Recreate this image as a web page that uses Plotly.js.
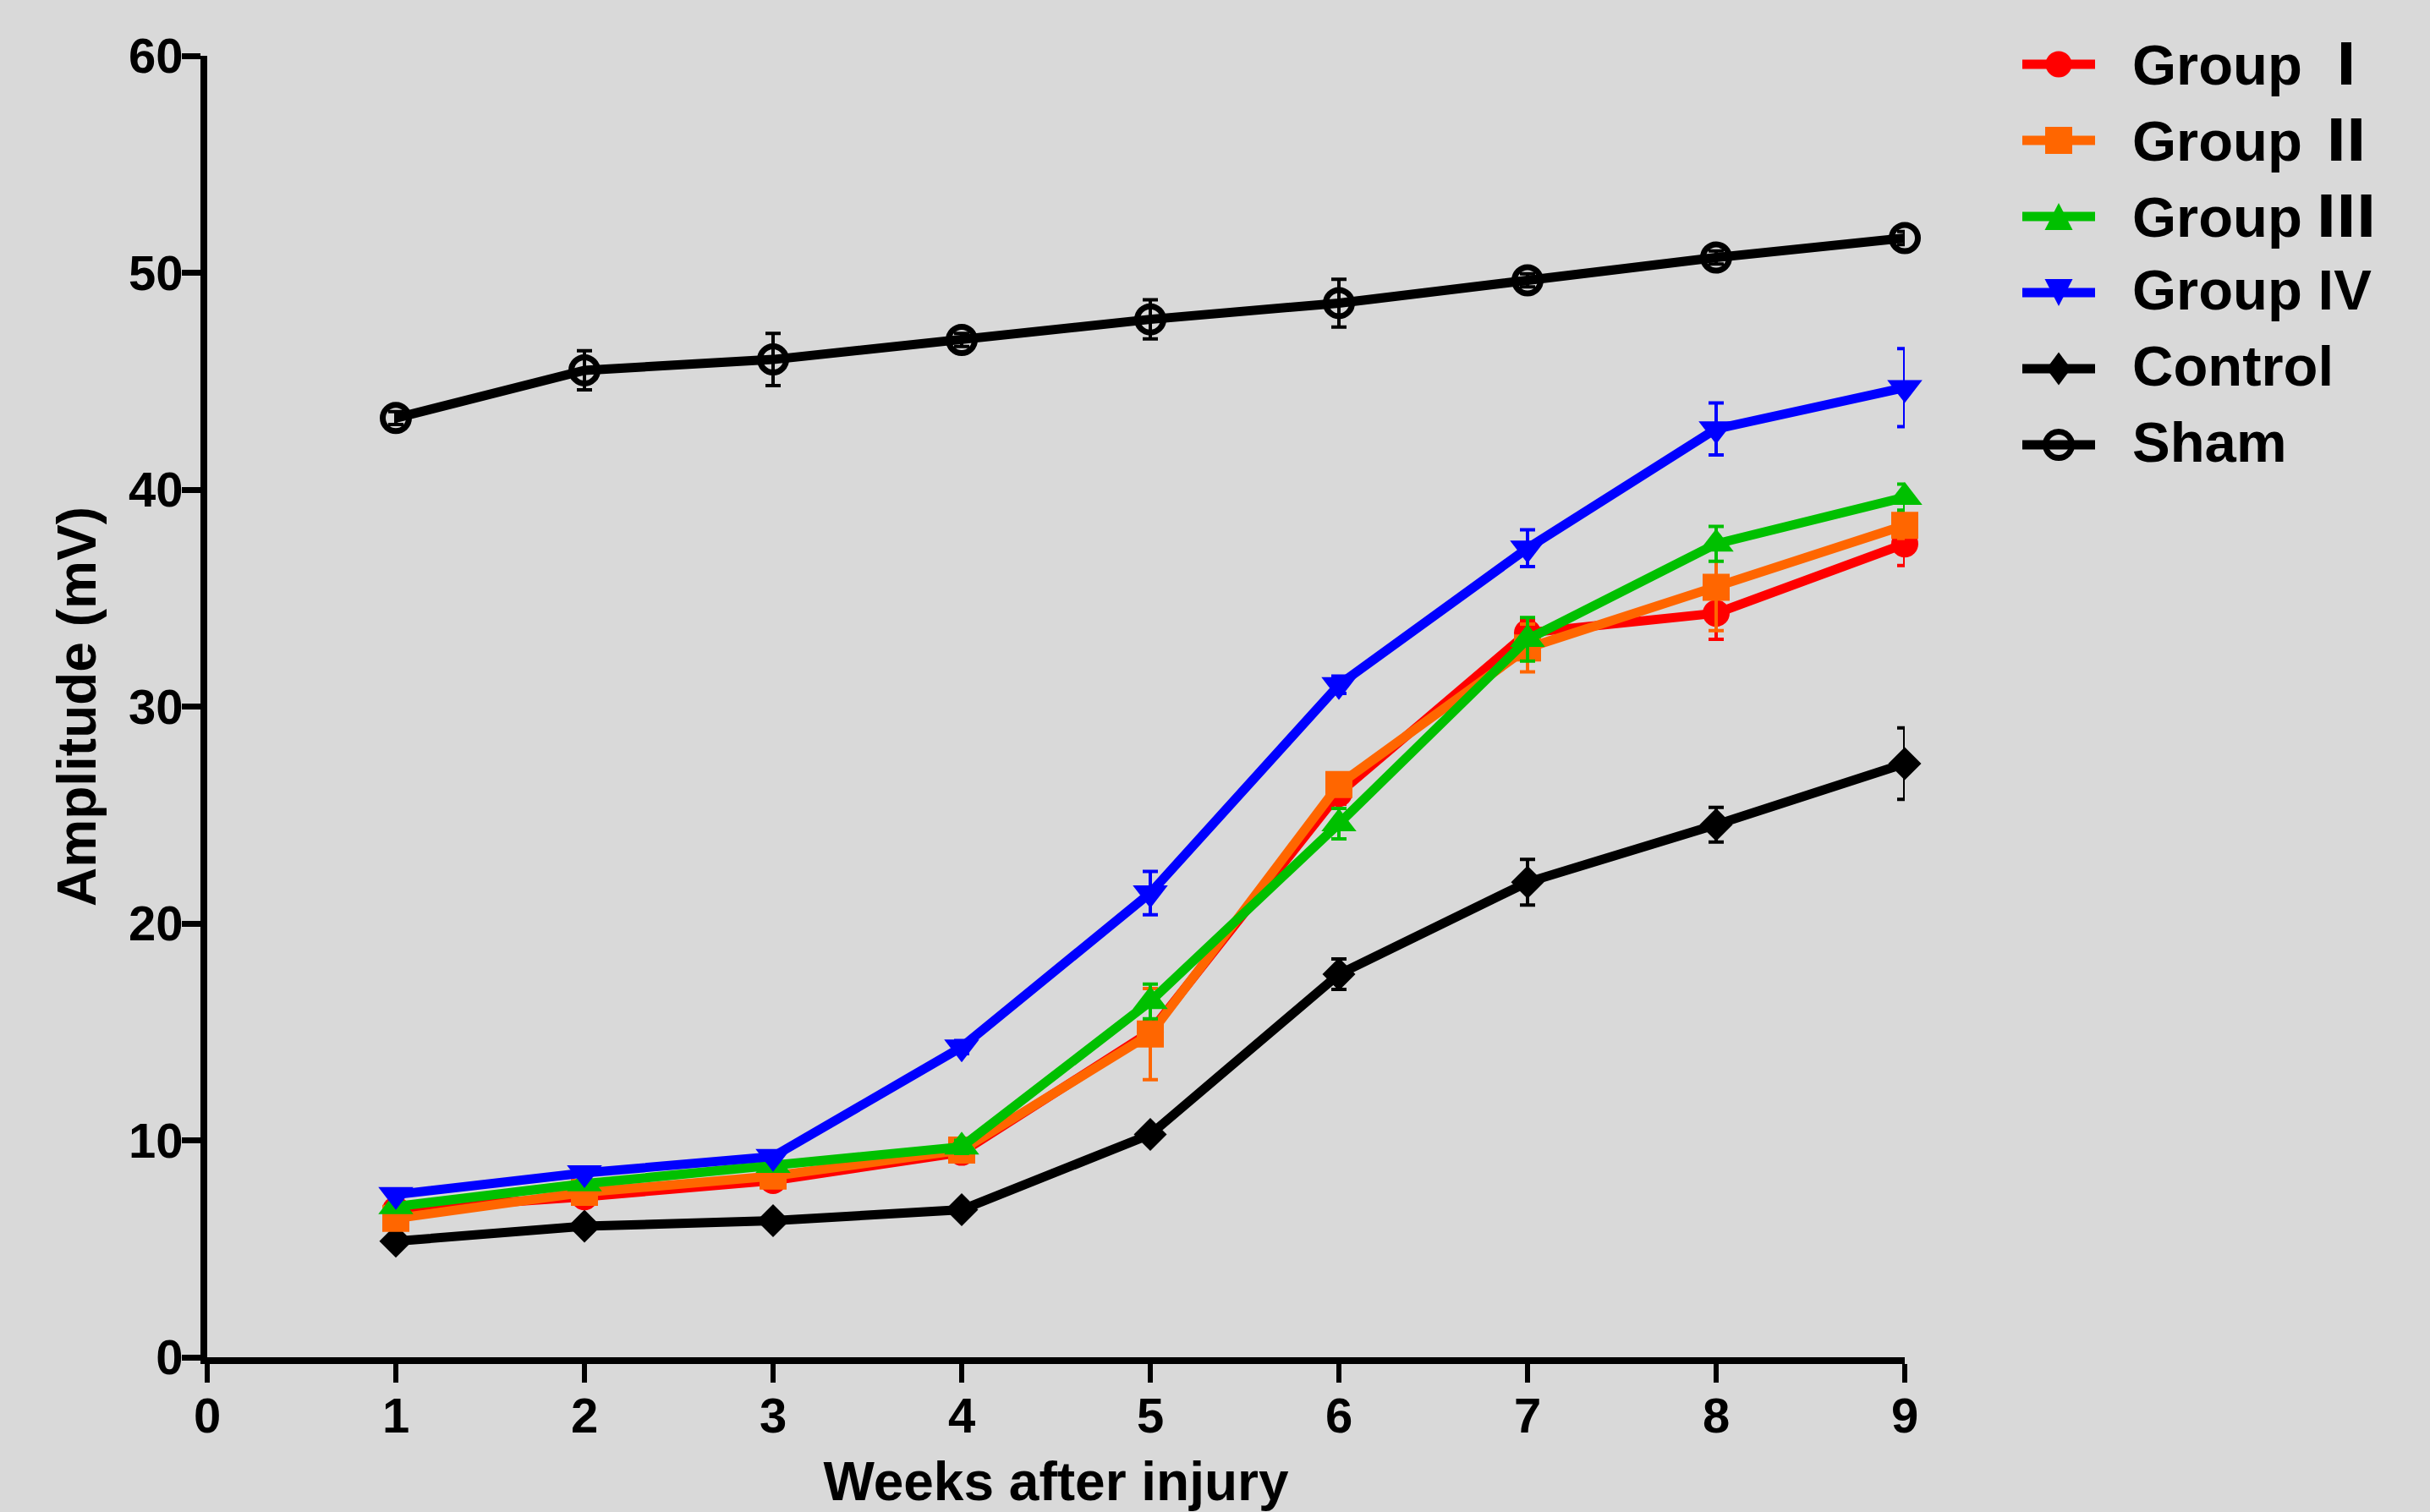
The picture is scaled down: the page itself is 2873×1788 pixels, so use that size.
<!DOCTYPE html>
<html>
<head>
<meta charset="utf-8">
<script src="https://cdn.plot.ly/plotly-3.0.1.min.js"></script>
<style>
  html, body { margin: 0; padding: 0; background: #d9d9d9; }
  #chart { width: 2873px; height: 1788px; }
</style>
</head>
<body>
<div id="chart"></div>
<script>
// ---- data ----
const weeks = [1, 2, 3, 4, 5, 6, 7, 8, 9];

const groupI      = [6.8, 7.4, 8.15, 9.45, 15.0, 26.0, 33.4, 34.3, 37.5];
const groupIErr   = [0.3, 0.3, 0.3, 0.3, 0.5, 0.5, 0.6, 1.2, 1.0];

const groupII     = [6.4, 7.6, 8.35, 9.55, 14.9, 26.4, 32.7, 35.5, 38.35];
const groupIIErr  = [0.3, 0.3, 0.3, 0.3, 2.1, 0.5, 1.1, 2.0, 0.6];

const groupIII    = [6.95, 8.0, 8.85, 9.7, 16.4, 24.6, 33.1, 37.5, 39.65];
const groupIIIErr = [0.2, 0.2, 0.2, 0.3, 0.8, 0.7, 1.0, 0.8, 0.6];

const groupIV     = [7.5, 8.5, 9.25, 14.3, 21.4, 31.0, 37.3, 42.8, 44.7];
const groupIVErr  = [0.2, 0.2, 0.2, 0.3, 1.0, 0.4, 0.85, 1.2, 1.8];

const control     = [5.35, 6.04, 6.3, 6.8, 10.27, 17.66, 21.9, 24.55, 27.37];
const controlErr  = [0.2, 0.2, 0.2, 0.2, 0.3, 0.7, 1.05, 0.8, 1.65];

const sham        = [43.3, 45.5, 46.0, 46.9, 47.85, 48.6, 49.65, 50.7, 51.6];
const shamErr     = [0.3, 0.9, 1.2, 0.3, 0.9, 1.1, 0.3, 0.3, 0.3];

const seriesNames   = ['Group', 'Group', 'Group', 'Group', 'Control', 'Sham'];
const seriesNumeral = ['Ⅰ', 'Ⅱ', 'Ⅲ', 'IV', '', ''];
const xTickVals   = [0, 1, 2, 3, 4, 5, 6, 7, 8, 9];
const yTickVals   = [0, 10, 20, 30, 40, 50, 60];

// ---- styles ----
const FONT = 'Liberation Sans, Arial, Noto Sans CJK SC, sans-serif';
const CJK = 'Noto Sans CJK SC';
const BG = '#d9d9d9';
const styles = [
  {color: '#ff0000', symbol: 'circle',        size: 32},
  {color: '#ff6600', symbol: 'square',        size: 32},
  {color: '#00c000', symbol: 'triangle-up',   size: 36},
  {color: '#0000ff', symbol: 'triangle-down', size: 36},
  {color: '#000000', symbol: 'diamond',       size: 30},
  {color: '#000000', symbol: 'circle-open',   size: 31}
];
const values = [groupI, groupII, groupIII, groupIV, control, sham];
const errors = [groupIErr, groupIIErr, groupIIIErr, groupIVErr, controlErr, shamErr];
const labelOf = i => seriesNumeral[i] ? seriesNames[i] + ' ' + seriesNumeral[i] : seriesNames[i];

// draw order: sham and control below, groups I..IV on top
const drawOrder = [5, 4, 0, 1, 2, 3];
const traces = drawOrder.map(i => {
  const s = styles[i];
  const open = s.symbol === 'circle-open';
  return {
    type: 'scatter',
    mode: 'lines+markers',
    name: labelOf(i),
    x: weeks,
    y: values[i],
    cliponaxis: false,
    showlegend: false,
    line: {color: s.color, width: 11},
    marker: {
      symbol: s.symbol, size: s.size, color: s.color,
      line: open ? {width: 7, color: s.color} : {width: 0}
    },
    error_y: {type: 'data', array: errors[i], visible: true,
              color: s.color, thickness: 4, width: 9}
  };
});

// ---- layout geometry ----
const W = 2873, H = 1788;
const M = {l: 245, r: 621, t: 66, b: 183};
const plotW = W - M.l - M.r, plotH = H - M.t - M.b;
const px2paperX = px => (px - M.l) / plotW;
const px2paperY = py => (H - M.b - py) / plotH;

// ---- hand-built legend (line sample + marker + label) ----
const legendKeyCenterX = px2paperX(2434);
const legendTextX = px2paperX(2519);
const legendRow0 = 76, legendGap = 90;
const shapes = [];
const annotations = [];
const markerPaths = {
  'triangle-up':   'M-16.5,-16 L16.5,-16 L0,16 Z',
  'triangle-down': 'M-16.5,16 L16.5,16 L0,-16 Z',
  'diamond':       'M0,19.5 L14.5,0 L0,-19.5 L-14.5,0 Z'
};
seriesNames.forEach((name, i) => {
  const s = styles[i];
  const yc = px2paperY(legendRow0 + legendGap * i);
  const base = {xref: 'paper', yref: 'paper', xsizemode: 'pixel', ysizemode: 'pixel',
                xanchor: legendKeyCenterX, yanchor: yc, layer: 'above'};
  shapes.push(Object.assign({}, base, {type: 'line', x0: -43, x1: 43, y0: 0, y1: 0,
                                        line: {color: s.color, width: 11}}));
  if (s.symbol === 'circle') {
    shapes.push(Object.assign({}, base, {type: 'circle', x0: -15.5, x1: 15.5, y0: -15.5, y1: 15.5,
                                          fillcolor: s.color, line: {width: 0}}));
  } else if (s.symbol === 'square') {
    shapes.push(Object.assign({}, base, {type: 'rect', x0: -16, x1: 16, y0: -16, y1: 16,
                                          fillcolor: s.color, line: {width: 0}}));
  } else if (s.symbol === 'circle-open') {
    shapes.push(Object.assign({}, base, {type: 'circle', x0: -15.5, x1: 15.5, y0: -15.5, y1: 15.5,
                                          fillcolor: 'rgba(0,0,0,0)', line: {color: s.color, width: 7}}));
  } else {
    shapes.push(Object.assign({}, base, {type: 'path', path: markerPaths[s.symbol],
                                          fillcolor: s.color, line: {width: 0}}));
  }
  const num = seriesNumeral[i];
  const cjk = num && num !== 'IV';
  let text = name;
  if (num) {
    text = cjk
      ? name + ' <span style="font-family:\'' + CJK + '\';font-weight:900">' + num + '</span>'
      : name + ' ' + num;
  }
  annotations.push({
    xref: 'paper', yref: 'paper', x: legendTextX, y: yc,
    xanchor: 'left', yanchor: 'middle', showarrow: false,
    yshift: cjk ? 6 : 4,
    text: text,
    font: {family: FONT, size: 67, color: '#000000', weight: 'bold'}
  });
});

const tickFont = {family: FONT, size: 58, color: '#000000', weight: 'bold'};
const titleFont = {family: FONT, size: 64, color: '#000000', weight: 'bold'};

const layout = {
  width: W, height: H,
  margin: M,
  paper_bgcolor: BG,
  plot_bgcolor: BG,
  showlegend: false,
  xaxis: {
    range: [0, 9],
    tickmode: 'array', tickvals: xTickVals, ticktext: xTickVals.map(String),
    ticks: 'outside', ticklen: 22, tickwidth: 6, tickcolor: '#000',
    ticklabelstandoff: -11,
    showline: true, linewidth: 8, linecolor: '#000',
    showgrid: false, zeroline: false,
    tickfont: tickFont,
    title: {text: 'Weeks after injury', font: titleFont, standoff: 36}
  },
  yaxis: {
    range: [0, 60],
    tickmode: 'array', tickvals: yTickVals, ticktext: yTickVals.map(String),
    ticks: 'outside', ticklen: 22, tickwidth: 7, tickcolor: '#000',
    ticklabelstandoff: -13,
    showline: true, linewidth: 8, linecolor: '#000',
    showgrid: false, zeroline: false,
    tickfont: tickFont,
    title: {text: 'Amplitude (mV)', font: titleFont, standoff: 20}
  },
  shapes: shapes,
  annotations: annotations
};

Plotly.newPlot('chart', traces, layout, {staticPlot: true, displayModeBar: false});
</script>
</body>
</html>
